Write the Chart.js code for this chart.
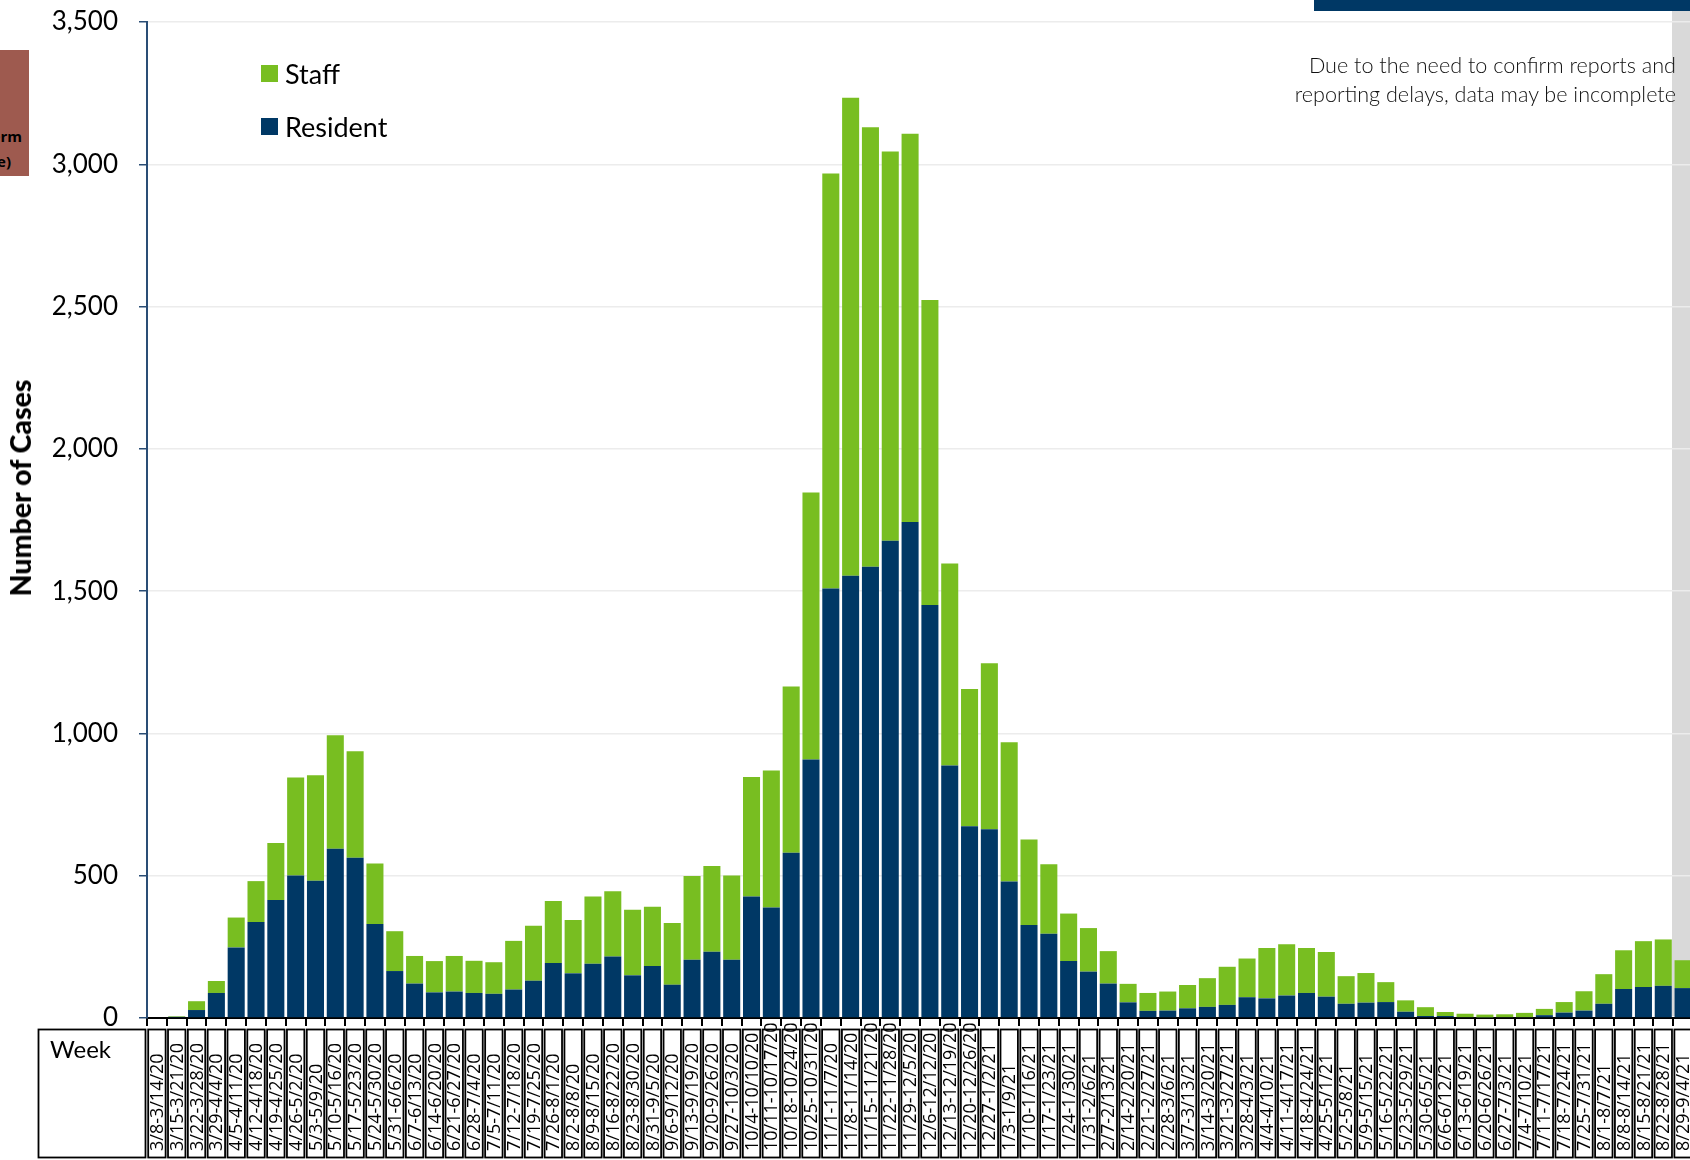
<!DOCTYPE html>
<html>
<head>
<meta charset="utf-8">
<title>Weekly cases</title>
<script src="https://cdn.jsdelivr.net/npm/chart.js@4.4.1/dist/chart.umd.min.js"></script>
<style>
  html, body { margin: 0; padding: 0; background: #fff; overflow: hidden; }
  #wrap { position: relative; width: 1690px; height: 1160px; overflow: hidden; }
  #chart { position: absolute; left: 0; top: 0; }
  .band { position: absolute; left: 1672px; top: 11px; width: 18px; height: 1005px; background: #d9d9d9; }
  .topbar { position: absolute; left: 1314px; top: 0; width: 376px; height: 11px; background: #003865; }
  .tab { position: absolute; left: 0; top: 50px; width: 29px; height: 126px; background: #9e5a4f; overflow: hidden; }
  .tab div { position: absolute; font: bold 15px "Open Sans"; color: #000; white-space: nowrap; line-height: 18px; }
  .ytitle { position: absolute; left: 20px; top: 488px; transform: translate(-50%, -50%) rotate(-90deg);
            font: 900 28.5px Lato; color: #000; white-space: nowrap; }
  .legend-item { position: absolute; left: 261px; height: 32px; display: flex; align-items: center;
                 font: 27px Lato; color: #000; }
  .legend-item span { display: inline-block; width: 17px; height: 17px; margin-right: 7px; }
  .note { position: absolute; right: 14px; top: 51px; text-align: right; font: 300 21.6px Lato;
          line-height: 29px; color: #111; }
  .week { position: absolute; left: 50px; top: 1034px; font: 24px Lato; color: #000; }
</style>
</head>
<body>
<div id="wrap">
  <div class="band"></div>
  <div class="topbar"></div>
  <canvas id="chart" width="1693" height="1160"></canvas>
  <div class="tab">
    <div style="right:7px;top:77px">Long-Term</div>
    <div style="right:18px;top:102px">(Type)</div>
  </div>
  <div class="ytitle">Number of Cases</div>
  <div id="legend"></div>
  <div class="note">Due to the need to confirm reports and<br>reporting delays, data may be incomplete</div>
  <div class="week">Week</div>
</div>
<script>
  const weeks = [
    '3/8-3/14/20', '3/15-3/21/20', '3/22-3/28/20', '3/29-4/4/20', '4/5-4/11/20', '4/12-4/18/20',
    '4/19-4/25/20', '4/26-5/2/20', '5/3-5/9/20', '5/10-5/16/20', '5/17-5/23/20', '5/24-5/30/20',
    '5/31-6/6/20', '6/7-6/13/20', '6/14-6/20/20', '6/21-6/27/20', '6/28-7/4/20', '7/5-7/11/20',
    '7/12-7/18/20', '7/19-7/25/20', '7/26-8/1/20', '8/2-8/8/20', '8/9-8/15/20', '8/16-8/22/20',
    '8/23-8/30/20', '8/31-9/5/20', '9/6-9/12/20', '9/13-9/19/20', '9/20-9/26/20', '9/27-10/3/20',
    '10/4-10/10/20', '10/11-10/17/20', '10/18-10/24/20', '10/25-10/31/20', '11/1-11/7/20', '11/8-11/14/20',
    '11/15-11/21/20', '11/22-11/28/20', '11/29-12/5/20', '12/6-12/12/20', '12/13-12/19/20', '12/20-12/26/20',
    '12/27-1/2/21', '1/3-1/9/21', '1/10-1/16/21', '1/17-1/23/21', '1/24-1/30/21', '1/31-2/6/21',
    '2/7-2/13/21', '2/14-2/20/21', '2/21-2/27/21', '2/28-3/6/21', '3/7-3/13/21', '3/14-3/20/21',
    '3/21-3/27/21', '3/28-4/3/21', '4/4-4/10/21', '4/11-4/17/21', '4/18-4/24/21', '4/25-5/1/21',
    '5/2-5/8/21', '5/9-5/15/21', '5/16-5/22/21', '5/23-5/29/21', '5/30-6/5/21', '6/6-6/12/21',
    '6/13-6/19/21', '6/20-6/26/21', '6/27-7/3/21', '7/4-7/10/21', '7/11-7/17/21', '7/18-7/24/21',
    '7/25-7/31/21', '8/1-8/7/21', '8/8-8/14/21', '8/15-8/21/21', '8/22-8/28/21', '8/29-9/4/21'
  ];

  const resident = [
    0, 4, 28, 88, 248, 337, 415, 501, 482, 595, 563, 330,
    165, 121, 90, 93, 88, 85, 100, 131, 193, 157, 191, 216,
    150, 183, 117, 205, 233, 205, 427, 388, 581, 908, 1509, 1554,
    1586, 1677, 1743, 1451, 887, 674, 663, 480, 327, 296, 200, 163,
    121, 55, 25, 26, 34, 39, 46, 73, 69, 79, 88, 75,
    50, 54, 56, 22, 7, 7, 3, 2, 3, 3, 10, 19,
    26, 50, 102, 109, 113, 105
  ];

  const staff = [
    0, 2, 31, 42, 105, 144, 200, 344, 371, 399, 374, 213,
    140, 97, 110, 125, 113, 111, 171, 193, 218, 187, 236, 229,
    230, 208, 217, 294, 301, 296, 420, 482, 584, 939, 1459, 1680,
    1544, 1368, 1364, 1072, 710, 482, 584, 489, 300, 244, 167, 153,
    114, 65, 63, 67, 82, 101, 134, 136, 177, 180, 158, 157,
    97, 104, 70, 40, 31, 14, 12, 10, 10, 15, 22, 37,
    68, 104, 136, 161, 163, 98
  ];

  const yMax = 3500;
  const yStep = 500;

  const STAFF_GREEN = '#78be21';
  const RESIDENT_NAVY = '#003865';
  const AXIS_NAVY = '#2a4d75';

  // legend (Staff above Resident, as in the original)
  (() => {
    const legend = document.getElementById('legend');
    [['Staff', STAFF_GREEN, 57], ['Resident', RESIDENT_NAVY, 110]].forEach(([label, color, top]) => {
      const item = document.createElement('div');
      item.className = 'legend-item';
      item.style.top = top + 'px';
      item.innerHTML = `<span style="background:${color}"></span>${label}`;
      legend.appendChild(item);
    });
  })();

  // week table under the x axis: bordered cells with vertical labels
  const weekTable = {
    id: 'weekTable',
    afterDraw(chart) {
      const {ctx} = chart;
      const x = chart.scales.x;
      const top = x.bottom + 3;
      const bottom = chart.height - 3;
      const w = x.width / weeks.length;
      ctx.save();
      ctx.strokeStyle = '#000';
      ctx.lineWidth = 1.8;
      ctx.strokeRect(38.5, top + 0.5, x.left - 40, bottom - top);
      weeks.forEach((lbl, i) => {
        const cx = x.getPixelForValue(i);
        ctx.strokeRect(cx - w / 2 + 1.2, top + 0.5, w - 2.4, bottom - top);
      });
      ctx.fillStyle = '#000';
      ctx.font = '18px "Open Sans"';
      ctx.textAlign = 'left';
      ctx.textBaseline = 'middle';
      weeks.forEach((lbl, i) => {
        ctx.save();
        ctx.translate(x.getPixelForValue(i) + 1, bottom - 6);
        ctx.rotate(-Math.PI / 2);
        ctx.fillText(lbl, 0, 0);
        ctx.restore();
      });
      ctx.restore();
    }
  };

  new Chart(document.getElementById('chart'), {
    type: 'bar',
    data: {
      labels: weeks,
      datasets: [
        {label: 'Resident', data: resident, backgroundColor: RESIDENT_NAVY, stack: 'cases'},
        {label: 'Staff', data: staff, backgroundColor: STAFF_GREEN, stack: 'cases'},
      ],
    },
    options: {
      responsive: false,
      devicePixelRatio: 1,
      animation: false,
      layout: {padding: {top: 22, bottom: 134, left: 0, right: 0}},
      datasets: {bar: {barPercentage: 0.86, categoryPercentage: 1, borderWidth: 0}},
      plugins: {legend: {display: false}, tooltip: {enabled: false}},
      scales: {
        x: {
          stacked: true,
          ticks: {display: false},
          grid: {display: true, drawOnChartArea: false, drawTicks: true, tickLength: 8,
                 color: '#000', lineWidth: 2, offset: true},
          border: {display: true, color: '#000', width: 2},
        },
        y: {
          stacked: true,
          min: 0,
          max: yMax,
          afterFit: s => { s.width = 147; s.paddingTop = 0; s.paddingBottom = 0; },
          ticks: {stepSize: yStep, padding: 21, color: '#000',
                  font: {family: 'Lato', size: 26},
                  callback: v => v.toLocaleString('en-US')},
          grid: {color: '#ececec', lineWidth: 1.5, tickColor: AXIS_NAVY, tickLength: 8, drawTicks: true},
          border: {display: true, color: AXIS_NAVY, width: 2},
        },
      },
    },
    plugins: [weekTable],
  });
</script>
</body>
</html>
